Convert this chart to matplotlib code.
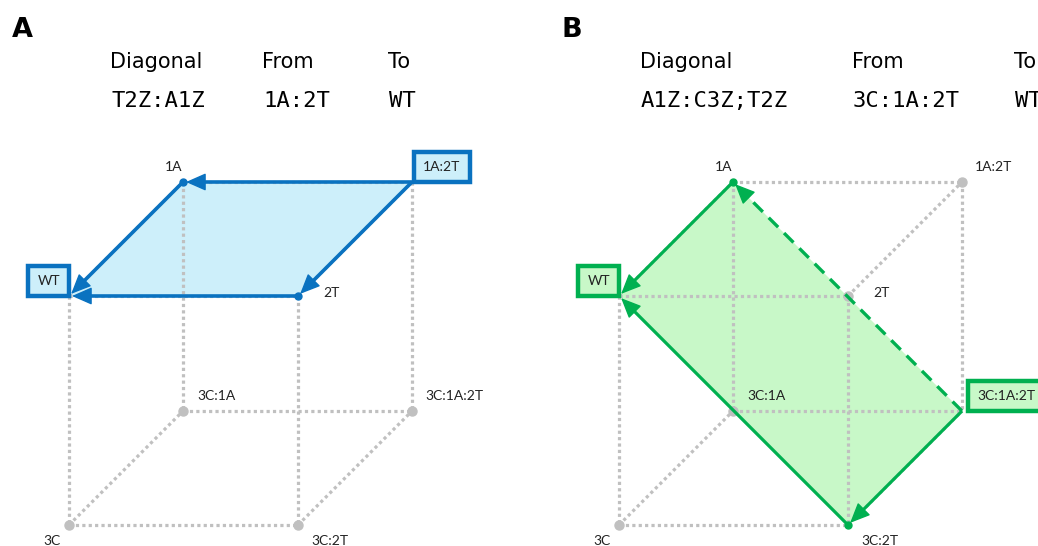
import matplotlib
matplotlib.use("Agg")
import matplotlib.pyplot as plt
from matplotlib.patches import Polygon

# genotype nodes of the 3-mutation cube
nodes = ["WT", "2T", "1A", "1A:2T", "3C", "3C:2T", "3C:1A", "3C:1A:2T"]
has_2T = [0, 1, 0, 1, 0, 1, 0, 1]
has_1A = [0, 0, 1, 1, 0, 0, 1, 1]
has_3C = [0, 0, 0, 0, 1, 1, 1, 1]

panel_letters = ["A", "B"]
diagonals = ["T2Z:A1Z", "A1Z:C3Z;T2Z"]
from_nodes = ["1A:2T", "3C:1A:2T"]
to_nodes = ["WT", "WT"]
faces = [["WT", "1A", "1A:2T", "2T"],
         ["WT", "1A", "3C:1A:2T", "3C:2T"]]
arrows_a = [("1A:2T", "1A", "-"), ("1A:2T", "2T", "-"),
            ("1A", "WT", "-"), ("2T", "WT", "-")]
arrows_b = [("1A", "WT", "-"), ("3C:2T", "WT", "-"),
            ("3C:1A:2T", "3C:2T", "-"), ("3C:1A:2T", "1A", "--")]
panel_arrows = [arrows_a, arrows_b]

# layout (pixel space)
origins = [(69, 296), (619, 296)]
v2T, v1A, v3C = (229, 0), (114, -114), (0, 229)
line_col = ["#0A72C0", "#00B050"]
fill_col = ["#CDEFFA", "#C8F8C8"]
grey = "#C0C0C0"
label_off = {"WT": (-16, 16, "center"), "2T": (25, -3, "left"),
             "1A": (-9, -15, "center"), "1A:2T": (13, -15, "left"),
             "3C": (-17, 16, "center"), "3C:2T": (13, 16, "left"),
             "3C:1A": (14, -15, "left"), "3C:1A:2T": (13, -15, "left")}
edges = [(a, b) for i, a in enumerate(nodes) for j, b in enumerate(nodes)
         if i < j and (has_2T[i] != has_2T[j]) + (has_1A[i] != has_1A[j]) + (has_3C[i] != has_3C[j]) == 1]

fig = plt.figure(figsize=(10.38, 5.46), dpi=100)
ax = fig.add_axes([0, 0, 1, 1])
ax.set_xlim(0, 1038)
ax.set_ylim(546, 0)
ax.axis("off")

lab_font = "Lato"
lab_size = 10

for p in range(2):
    ox, oy = origins[p]
    pos = {}
    for k, n in enumerate(nodes):
        pos[n] = (ox + has_2T[k] * v2T[0] + has_1A[k] * v1A[0] + has_3C[k] * v3C[0],
                  oy + has_2T[k] * v2T[1] + has_1A[k] * v1A[1] + has_3C[k] * v3C[1])
    lc, fc = line_col[p], fill_col[p]

    # header
    ax.text(ox - 57, 30, panel_letters[p], fontsize=19.5, fontweight="bold",
            ha="left", va="center")
    hx = [ox + 41, ox + 193, ox + 319] if p == 0 else [ox + 21, ox + 233, ox + 395]
    for x, t in zip(hx, ["Diagonal", "From", "To"]):
        ax.text(x, 62, t, fontsize=15, ha="left", va="center")
    for x, t in zip(hx, [diagonals[p], from_nodes[p], to_nodes[p]]):
        ax.text(x + 1, 101, t, fontsize=16, family="DejaVu Sans Mono",
                ha="left", va="center")

    # shaded face
    ax.add_patch(Polygon([pos[n] for n in faces[p]], closed=True,
                         facecolor=fc, edgecolor="none", zorder=1))

    # cube edges
    for a, b in edges:
        ax.plot([pos[a][0], pos[b][0]], [pos[a][1], pos[b][1]], color=grey,
                lw=2.3, linestyle=(0, (1, 1)), zorder=2)

    # nodes
    on_face = set(faces[p])
    for n in nodes:
        if n in (from_nodes[p], to_nodes[p]):
            continue
        if n in on_face:
            ax.plot(*pos[n], "o", ms=5, color=lc, zorder=5)
        else:
            ax.plot(*pos[n], "o", ms=6.5, color=grey, zorder=3)

    # arrows
    for a, b, ls in panel_arrows[p]:
        (x0, y0), (x1, y1) = pos[a], pos[b]
        dx, dy = x1 - x0, y1 - y0
        d = (dx ** 2 + dy ** 2) ** 0.5
        ux, uy = dx / d, dy / d
        tx, ty = x1 - ux * 3, y1 - uy * 3
        hl = 17
        if ls == "--":
            ax.plot([x0, tx - ux * hl], [y0, ty - uy * hl], color=lc, lw=2.4,
                    linestyle=(0, (4, 2.5)), solid_capstyle="butt", zorder=4)
        else:
            ax.plot([x0, tx - ux * hl], [y0, ty - uy * hl], color=lc,
                    lw=2.6 if p == 0 else 2.3, solid_capstyle="butt", zorder=4)
        ax.annotate("", xy=(tx, ty), xytext=(tx - ux * (hl + 2), ty - uy * (hl + 2)),
                    arrowprops=dict(arrowstyle="-|>,head_length=1.25,head_width=0.55",
                                    color=lc, lw=1, shrinkA=0, shrinkB=0,
                                    mutation_scale=10), zorder=6)

    # node labels
    for n in nodes:
        x, y = pos[n]
        if n == to_nodes[p]:
            ax.annotate(n, (x, y), xytext=(-9, 9), textcoords="offset pixels",
                        ha="right", va="bottom", fontsize=lab_size, family=lab_font,
                        color="#222222", zorder=7,
                        bbox=dict(boxstyle="square,pad=0.66", fc=fc, ec=lc, lw=3.2))
        elif n == from_nodes[p]:
            ax.annotate(n, (x, y), xytext=(11 + 4 * p, 9), textcoords="offset pixels",
                        ha="left", va="bottom", fontsize=lab_size, family=lab_font,
                        color="#222222", zorder=7,
                        bbox=dict(boxstyle="square,pad=0.66", fc=fc, ec=lc, lw=3.2))
        else:
            dx, dy, ha = label_off[n]
            ax.text(x + dx, y + dy, n, fontsize=lab_size, family=lab_font, ha=ha,
                    va="center", color="#222222", zorder=7)

fig.savefig("out.png", dpi=100)
